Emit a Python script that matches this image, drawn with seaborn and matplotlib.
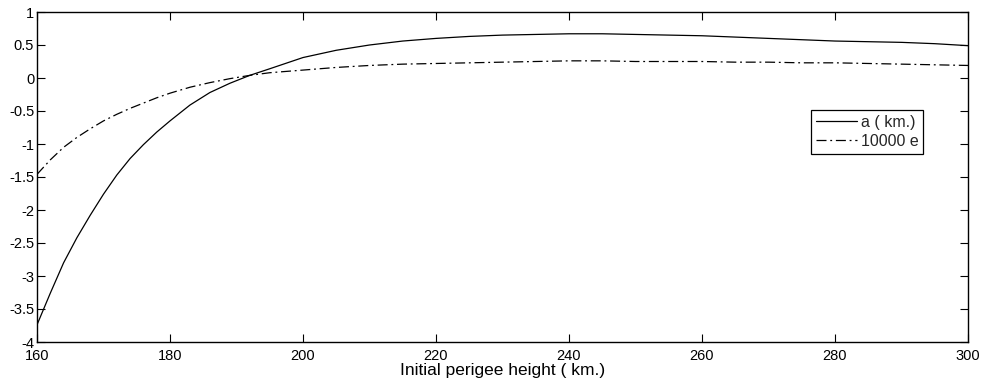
import numpy as np
import pandas as pd
import matplotlib
matplotlib.use("Agg")
import matplotlib.pyplot as plt
import seaborn as sns

# Data
perigee_km = [160, 162, 164, 166, 168, 170, 172, 174, 176, 178, 180, 183, 186, 189,
              192, 195, 200, 205, 210, 215, 220, 225, 230, 235, 240, 245, 250, 255,
              260, 265, 270, 275, 280, 285, 290, 295, 300]
a_km = [-3.74, -3.26, -2.80, -2.42, -2.08, -1.76, -1.47, -1.22, -1.01, -0.82, -0.65,
        -0.41, -0.22, -0.08, 0.04, 0.14, 0.31, 0.42, 0.50, 0.56, 0.60, 0.63, 0.65,
        0.66, 0.67, 0.67, 0.66, 0.65, 0.64, 0.62, 0.60, 0.58, 0.56, 0.55, 0.54, 0.52, 0.49]
e_10000 = [-1.46, -1.24, -1.05, -0.90, -0.77, -0.65, -0.55, -0.46, -0.38, -0.30, -0.23,
           -0.14, -0.07, -0.01, 0.04, 0.08, 0.12, 0.16, 0.19, 0.21, 0.22, 0.23, 0.24,
           0.25, 0.26, 0.26, 0.25, 0.25, 0.25, 0.24, 0.24, 0.23, 0.23, 0.22, 0.21, 0.20, 0.19]
series_names = ["a ( km.)", "10000 e"]
x_ticks = [160, 180, 200, 220, 240, 260, 280, 300]
y_ticks = [1, 0.5, 0, -0.5, -1, -1.5, -2, -2.5, -3, -3.5, -4]

df = pd.DataFrame({
    "x": perigee_km * 2,
    "y": a_km + e_10000,
    "series": [series_names[0]] * len(perigee_km) + [series_names[1]] * len(perigee_km),
})

sns.set_theme(style="ticks")
plt.rcParams["font.family"] = ["Liberation Sans", "DejaVu Sans"]

fig = plt.figure(figsize=(9.83, 3.88), dpi=100)
ax = fig.add_axes([37 / 983, 1 - 342 / 388, (968 - 37) / 983, (342 - 12) / 388])

sns.lineplot(data=df, x="x", y="y", style="series", hue="series",
             palette={series_names[0]: "black", series_names[1]: "black"},
             dashes={series_names[0]: "", series_names[1]: (8, 3, 1.5, 3)},
             linewidth=0.9, ax=ax, legend=True)

ax.set_xlim(160, 300)
ax.set_ylim(-4, 1)
ax.set_xticks(x_ticks)
ax.set_xticklabels([str(t) for t in x_ticks])
ax.set_yticks(y_ticks)
ax.set_yticklabels(["%g" % t for t in y_ticks])
ax.tick_params(direction="in", length=6, width=0.8, top=True, right=True,
               labelsize=10.5, colors="black", pad=3)
ax.tick_params(axis="x", pad=5)
ax.tick_params(axis="y", pad=2)
for s in ax.spines.values():
    s.set_visible(True)
    s.set_linewidth(1.0)
    s.set_color("black")
ax.set_xlabel("Initial perigee height ( km.)", fontsize=12.5, labelpad=0, color="black")
ax.set_ylabel("")

leg = ax.legend(loc="upper left", bbox_to_anchor=((811 - 37) / 931, (342 - 110) / 330),
                frameon=True, fancybox=False, framealpha=1, edgecolor="black",
                fontsize=11.5, handlelength=2.6, handletextpad=0.2, borderpad=0.3,
                labelspacing=0.25, borderaxespad=0)
leg.get_frame().set_linewidth(0.9)

fig.savefig("out.png", dpi=100)
